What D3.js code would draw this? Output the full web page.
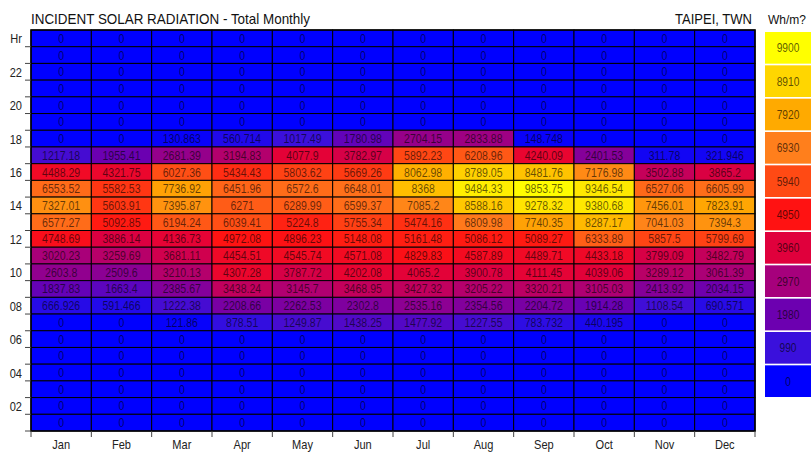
<!DOCTYPE html>
<html><head><meta charset="utf-8">
<script src="https://cdn.jsdelivr.net/npm/d3@7"></script>
<style>
body{margin:0;background:#fff;}
text{font-family:"Liberation Sans Narrow","Arial Narrow","Liberation Sans",Arial,sans-serif;}
</style></head>
<body><svg id="c" width="811" height="454"></svg>
<script>
const months = ["Jan","Feb","Mar","Apr","May","Jun","Jul","Aug","Sep","Oct","Nov","Dec"];
const hours = d3.range(24, 0, -1); // 24 at top ... 1 at bottom
const hourLabels = {24:"Hr",22:"22",20:"20",18:"18",16:"16",14:"14",12:"12",10:"10",8:"08",6:"06",4:"04",2:"02"};
const legendValues = [9900,8910,7920,6930,5940,4950,3960,2970,1980,990,0];
const legendColors = ["#ffff00","#ffd600","#ffaa00","#ff7f1c","#ff4a14","#ff1212","#e0003c","#a6007c","#6c00b0","#3a10dc","#0000ff"];
// nonzero hours (hour: values Jan..Dec)
const h18 = [0,0,130.863,560.714,1017.49,1780.98,2704.15,2833.88,148.748,0,0,0];
const h17 = [1217.18,1955.41,2681.39,3194.83,4077.9,3782.97,5892.23,6208.96,4240.09,2401.53,311.78,321.946];
const h16 = [4488.29,4321.75,6027.36,5434.43,5803.62,5669.26,8062.98,8789.05,8481.76,7176.98,3502.88,3865.2];
const h15 = [6553.52,5582.53,7736.92,6451.96,6572.6,6648.01,8368,9484.33,9853.75,9346.54,6527.06,6605.99];
const h14 = [7327.01,5603.91,7395.87,6271,6289.99,6599.37,7085.2,8588.16,9278.32,9380.68,7456.01,7823.91];
const h13 = [6577.27,5092.85,6194.24,6039.41,5224.8,5755.34,5474.16,6809.98,7740.35,8287.17,7041.03,7394.3];
const h12 = [4748.69,3886.14,4136.73,4972.08,4896.23,5148.08,5161.48,5086.12,5089.27,6333.89,5857.5,5799.69];
const h11 = [3020.23,3259.69,3681.11,4454.51,4545.74,4571.08,4829.83,4587.89,4489.71,4433.18,3799.09,3482.79];
const h10 = [2603.8,2509.6,3210.13,4307.28,3787.72,4202.08,4065.2,3900.78,4111.45,4039.06,3289.12,3061.39];
const h09 = [1837.83,1663.4,2385.67,3438.24,3145.7,3468.95,3427.32,3205.22,3320.21,3105.03,2413.92,2034.15];
const h08 = [666.926,591.466,1222.38,2208.66,2262.53,2302.8,2535.16,2354.56,2204.72,1914.28,1108.54,690.571];
const h07 = [0,0,121.86,878.51,1249.87,1438.25,1477.92,1227.55,783.732,440.195,0,0];
const byHour = {18:h18,17:h17,16:h16,15:h15,14:h14,13:h13,12:h12,11:h11,10:h10,9:h09,8:h08,7:h07};

const cells = [];
hours.forEach(h => months.forEach((m,i) => {
  const v = byHour[h] ? byHour[h][i] : 0;
  cells.push({h, m, v});
}));

const svg = d3.select("#c");
const L = 31, R = 755, T = 30, B = 431;
const x = d3.scaleBand().domain(months).range([L, R]);
const y = d3.scaleBand().domain(hours).range([T, B]);
const color = d3.scaleLinear().domain(legendValues.slice().reverse()).range(legendColors.slice().reverse()).clamp(true);

svg.append("g").selectAll("rect").data(cells).join("rect")
  .attr("x", d => x(d.m)).attr("y", d => y(d.h))
  .attr("width", x.bandwidth()).attr("height", y.bandwidth())
  .attr("fill", d => color(d.v)).attr("stroke", "#000").attr("stroke-width", 1);

svg.append("g").selectAll("text").data(cells).join("text")
  .attr("transform", d => `translate(${x(d.m) + x.bandwidth()/2},${y(d.h) + y.bandwidth()/2 + 4.5}) scale(0.88,1)`)
  .attr("text-anchor", "middle").attr("font-size", 12)
  .attr("fill", "#000").attr("fill-opacity", 0.6)
  .text(d => d.v === 0 ? "0" : String(d.v));

svg.append("rect").attr("x", L).attr("y", T).attr("width", R-L).attr("height", B-T)
  .attr("fill", "none").attr("stroke", "#000").attr("stroke-width", 1.5);

// y axis labels and ticks
const ya = svg.append("g");
hours.forEach(h => {
  if (hourLabels[h]) ya.append("text")
    .attr("transform", `translate(22,${y(h) + y.bandwidth()/2 + 5}) scale(0.85,1)`)
    .attr("text-anchor", "end").attr("font-size", 13).attr("fill", "#222").text(hourLabels[h]);
  ya.append("line").attr("x1", 25).attr("x2", L).attr("y1", y(h) + y.bandwidth()).attr("y2", y(h) + y.bandwidth())
    .attr("stroke", "#444").attr("stroke-width", 1);
});
// x axis
const xa = svg.append("g");
months.forEach(m => {
  xa.append("text")
    .attr("transform", `translate(${x(m) + x.bandwidth()/2},449) scale(0.85,1)`)
    .attr("text-anchor", "middle").attr("font-size", 13).attr("fill", "#222").text(m);
  xa.append("line").attr("x1", x(m)).attr("x2", x(m)).attr("y1", B).attr("y2", B+6)
    .attr("stroke", "#444");
});
xa.append("line").attr("x1", R).attr("x2", R).attr("y1", B).attr("y2", B+6).attr("stroke", "#444");

// titles
svg.append("text").attr("x", 31).attr("y", 24).attr("font-size", 14.5).attr("fill", "#111")
  .attr("textLength", 279).attr("lengthAdjust", "spacingAndGlyphs")
  .text("INCIDENT SOLAR RADIATION - Total Monthly");
svg.append("text").attr("x", 675).attr("y", 24).attr("font-size", 14.5).attr("fill", "#111")
  .attr("textLength", 77).attr("lengthAdjust", "spacingAndGlyphs").text("TAIPEI, TWN");
svg.append("text").attr("x", 768).attr("y", 24).attr("font-size", 12.5).attr("fill", "#111")
  .attr("textLength", 38).attr("lengthAdjust", "spacingAndGlyphs").text("Wh/m?");

// legend
const ly = d3.scaleBand().domain(legendValues).range([32, 397]).paddingInner(0.05);
const lg = svg.append("g");
lg.selectAll("rect").data(legendValues).join("rect")
  .attr("x", 765).attr("y", d => ly(d)).attr("width", 46).attr("height", ly.bandwidth())
  .attr("fill", d => color(d));
lg.selectAll("text").data(legendValues).join("text")
  .attr("transform", d => `translate(788,${ly(d) + ly.bandwidth()/2 + 4.5}) scale(0.85,1)`)
  .attr("text-anchor", "middle").attr("font-size", 12).attr("fill", "#000").attr("fill-opacity", 0.65)
  .text(d => d);
</script></body></html>
